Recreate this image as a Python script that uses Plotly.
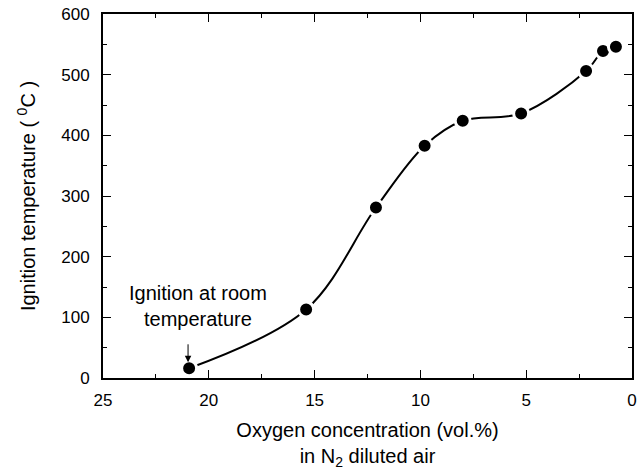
import plotly.graph_objects as go

oxygen = [20.93, 15.4, 12.1, 9.8, 8.0, 5.24, 2.17, 1.37, 0.76]
ign_temp = [16, 113, 281, 383, 424, 436, 506, 539, 546]

x_ticks = [25, 20, 15, 10, 5, 0]
y_ticks = [0, 100, 200, 300, 400, 500, 600]

fig = go.Figure()
fig.add_trace(go.Scatter(
    x=oxygen, y=ign_temp, mode="lines",
    line=dict(color="black", width=2, shape="spline", smoothing=1.0),
    hoverinfo="skip", showlegend=False))
fig.add_trace(go.Scatter(
    x=oxygen, y=ign_temp, mode="markers",
    marker=dict(color="black", size=15, line=dict(color="white", width=3)),
    showlegend=False))

font_family = "Liberation Sans, Arial, sans-serif"

# arrow
fig.add_annotation(x=20.98, y=26, ax=20.98, ay=58, xref="x", yref="y",
                   axref="x", ayref="y", text="", showarrow=True,
                   arrowhead=2, arrowsize=1.3, arrowwidth=1, arrowcolor="black")
fig.add_annotation(x=20.5, y=118, xref="x", yref="y",
                   text="Ignition at room<br>temperature", showarrow=False,
                   font=dict(family=font_family, size=20, color="black"),
                   align="center")

fig.update_layout(
    width=641, height=470,
    margin=dict(l=103, r=4, t=14, b=84),
    paper_bgcolor="white", plot_bgcolor="white",
    font=dict(family=font_family, color="black", size=16),
    xaxis=dict(range=[25, 0], tickvals=x_ticks, ticks="inside", ticklen=8,
               tickwidth=1.2, tickcolor="black", mirror="ticks", showline=True,
               linecolor="black", linewidth=1.8, showgrid=False, zeroline=False,
               minor=dict(ticks="inside", dtick=2.5, ticklen=4, tickwidth=1.2,
                          tickcolor="black", showgrid=False),
               tickfont=dict(size=17), ticklabelstandoff=6,
               title=dict(text="Oxygen concentration (vol.%)<br>in N<sub>2</sub> diluted air",
                          font=dict(size=20), standoff=16)),
    yaxis=dict(range=[0, 600], tickvals=y_ticks, ticks="inside", ticklen=8,
               tickwidth=1.2, tickcolor="black", mirror="ticks", showline=True,
               linecolor="black", linewidth=1.8, showgrid=False, zeroline=False,
               minor=dict(ticks="inside", dtick=50, ticklen=4, tickwidth=1.2,
                          tickcolor="black", showgrid=False),
               tickfont=dict(size=17), ticklabelstandoff=8,
               title=dict(text="Ignition temperature ( <sup>0</sup>C )",
                          font=dict(size=20), standoff=20)),
)

fig.write_html("out.html")
